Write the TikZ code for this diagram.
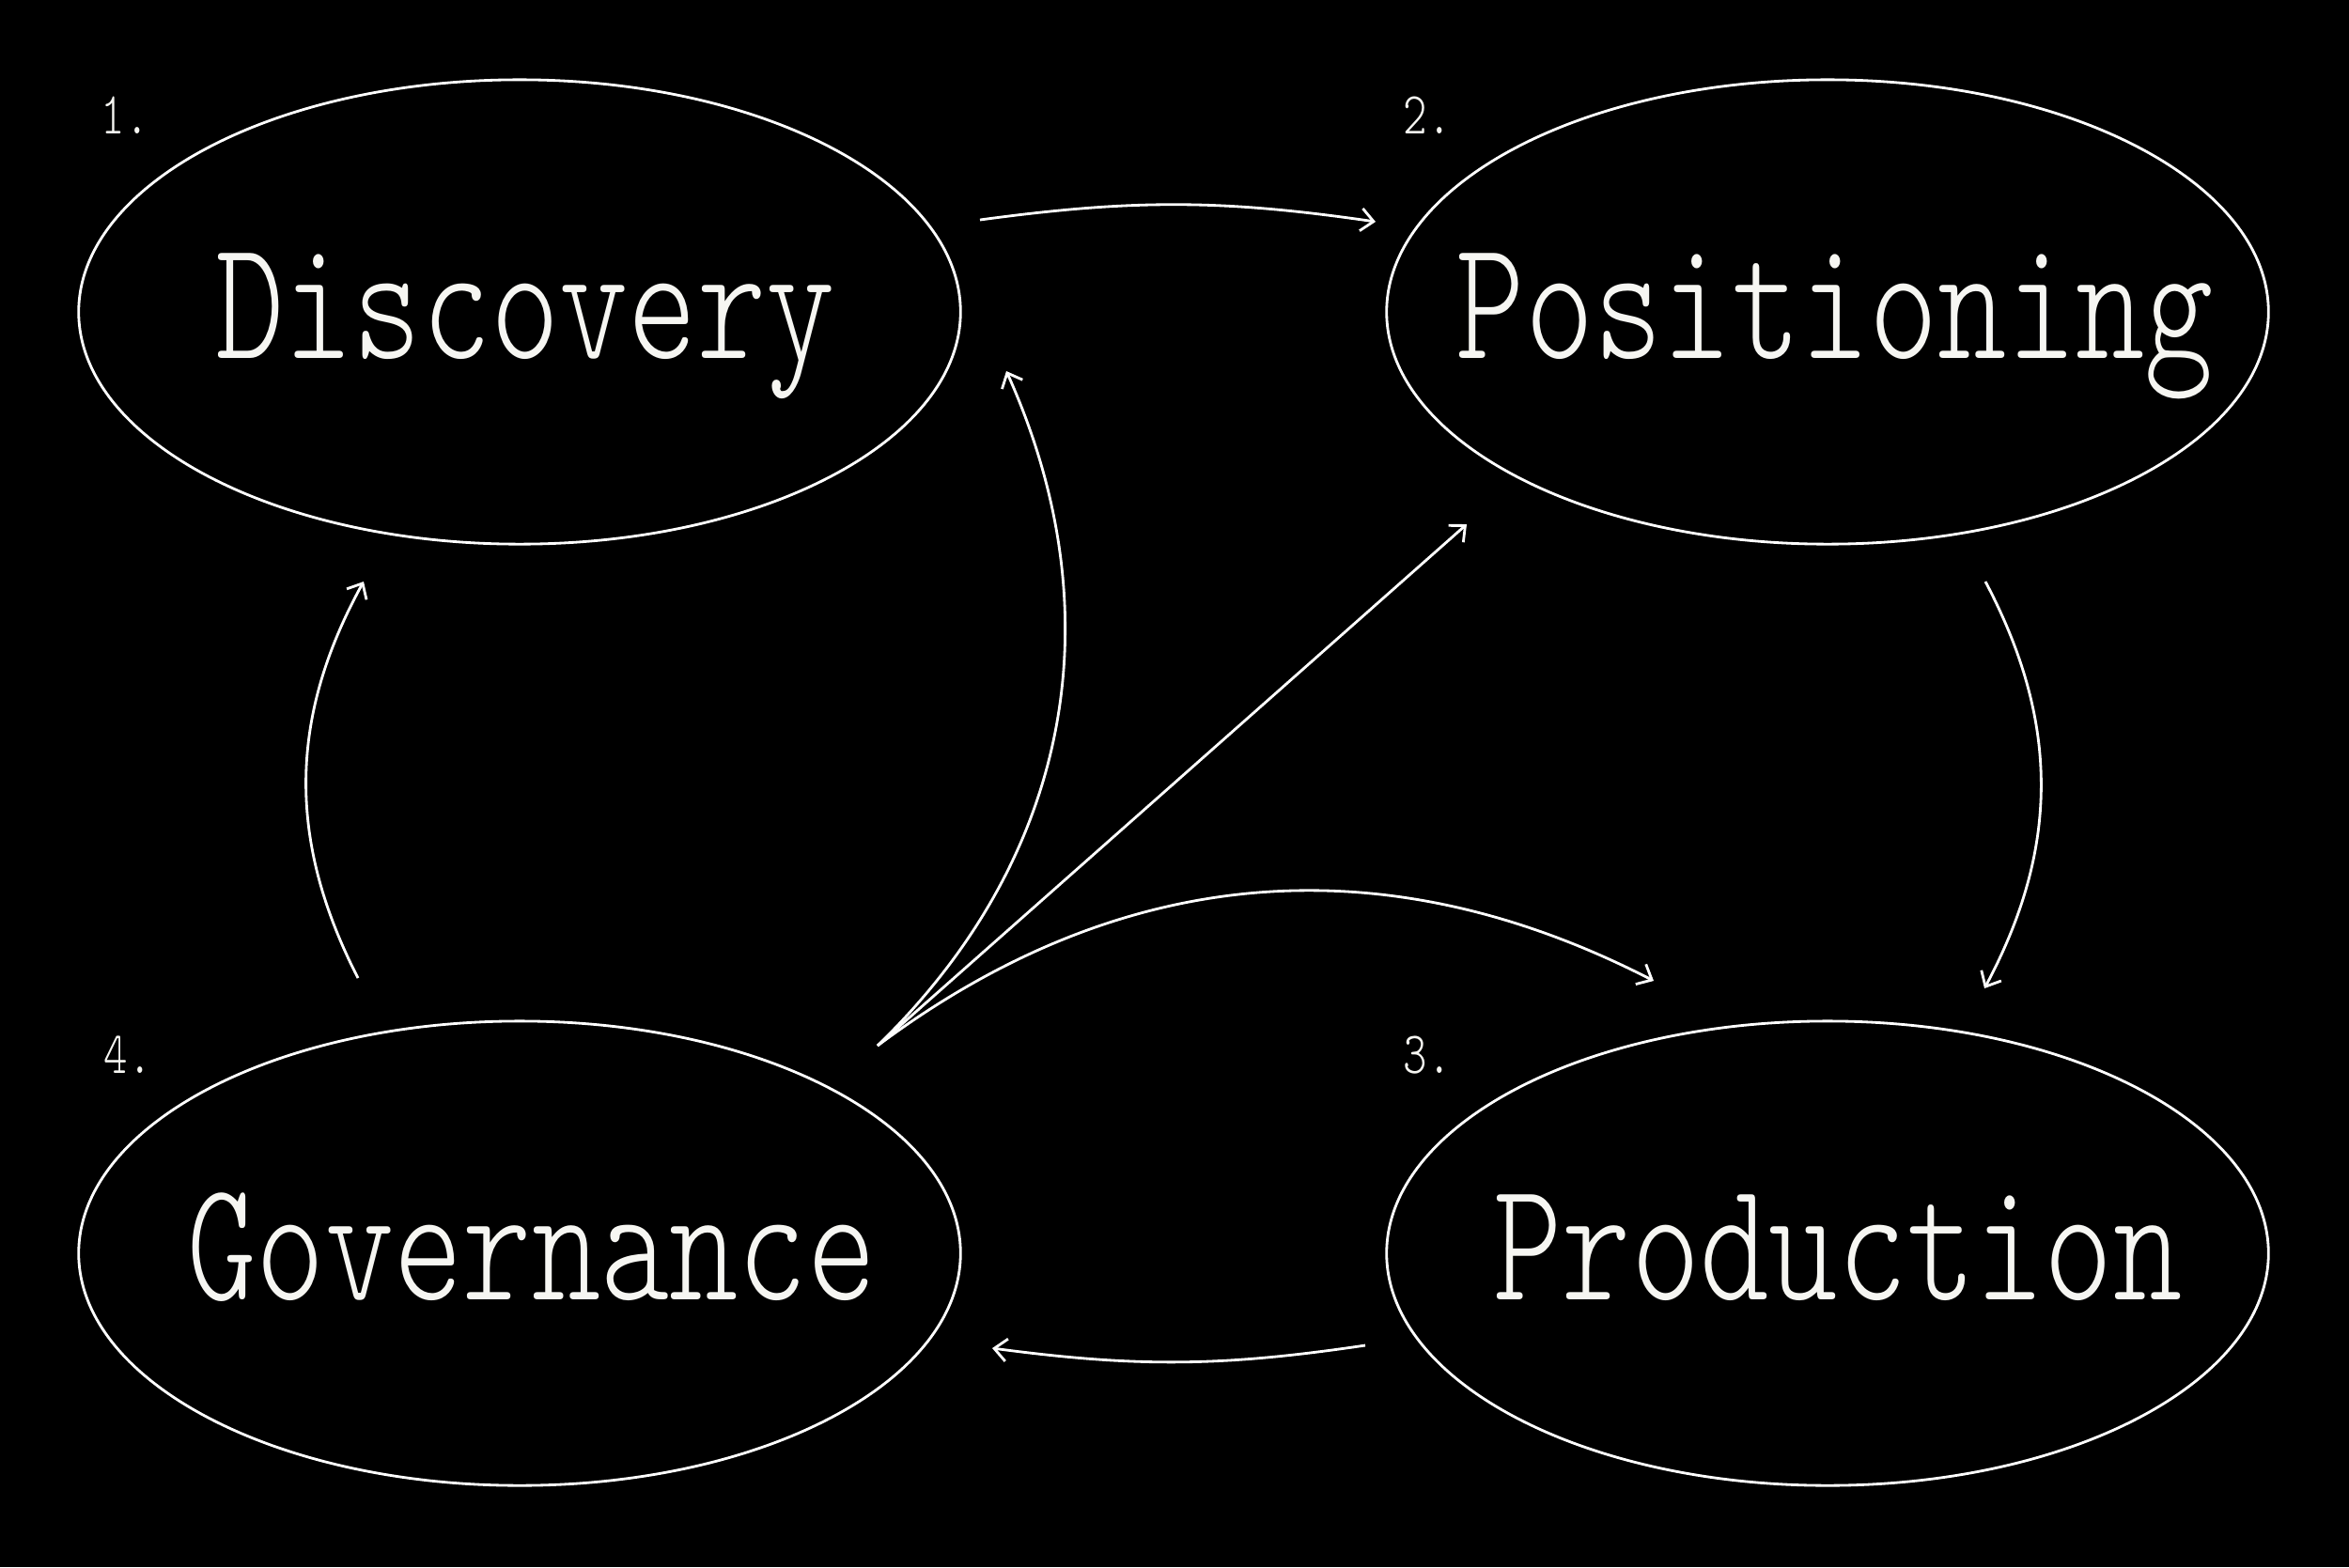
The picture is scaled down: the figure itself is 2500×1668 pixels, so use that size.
\documentclass[tikz,border=0pt]{standalone}
\usepackage{fontspec}
\setmonofont{Latin Modern Mono Light}
\usepackage{graphicx}
\usetikzlibrary{shapes.geometric,arrows.meta,calc}
\definecolor{ink}{RGB}{246,246,242}
\tikzset{
  oval/.style={draw=white, line width=0.8pt, ellipse, minimum width=9.38cm, minimum height=4.94cm, inner sep=0pt},
  lbl/.style={text=ink, inner sep=0pt, anchor=base, font=\fontsize{39.7pt}{40pt}\selectfont\ttfamily},
  num/.style={text=ink, inner sep=0pt, anchor=base west, font=\fontsize{13.8pt}{14pt}\selectfont\ttfamily},
  conn/.style={draw=white, line width=0.8pt, -{Straight Barb[length=3.8pt,width=6.8pt]}}
}
\newcommand{\tall}[1]{\scalebox{1}[1.31]{#1}}
\begin{document}
\begin{tikzpicture}[x=0.01cm,y=-0.01cm]
\fill[black] (0,0) rectangle (2500,1668);
\useasboundingbox (0,0) rectangle (2500,1668);

\node[oval] (D) at (553,332) {};
\node[oval] (P) at (1945,332) {};
\node[oval] (G) at (553,1334) {};
\node[oval] (R) at (1945,1334) {};

\node[lbl] (Dl) at ($(D)+(6,49)$) {\tall{Discovery}};
\node[lbl] (Pl) at ($(P)+(8,49)$) {\tall{Positioning}};
\node[lbl] (Gl) at ($(G)+(13,49)$) {\tall{Governance}};
\node[lbl] (Rl) at ($(R)+(11,49)$) {\tall{Production}};

\node[num] (n1) at ($(D)+(-446,-190)$) {\tall{1.}};
\node[num] (n2) at ($(P)+(-452,-190)$) {\tall{2.}};
\node[num] (n3) at ($(R)+(-452,-192)$) {\tall{3.}};
\node[num] (n4) at ($(G)+(-443,-192)$) {\tall{4.}};

\draw[conn] ($(D)+(490,-98)$) to[bend left=8] ($(P)+(-481,-96)$);
\draw[conn] ($(P)+(168,287)$) to[bend left=28] ($(R)+(167,-282)$);
\draw[conn] ($(R)+(-492,98)$) to[bend left=8] ($(G)+(503,101)$);
\draw[conn] ($(G)+(-172,-293)$) to[bend left=28] ($(D)+(-166,287)$);
\draw[conn] ($(G)+(381,-221)$) to[bend right=35] ($(D)+(518,63)$);
\draw[conn] ($(G)+(381,-221)$) -- ($(P)+(-384,226)$);
\draw[conn] ($(G)+(381,-221)$) to[bend left=32] ($(R)+(-185,-290)$);
\end{tikzpicture}
\end{document}
